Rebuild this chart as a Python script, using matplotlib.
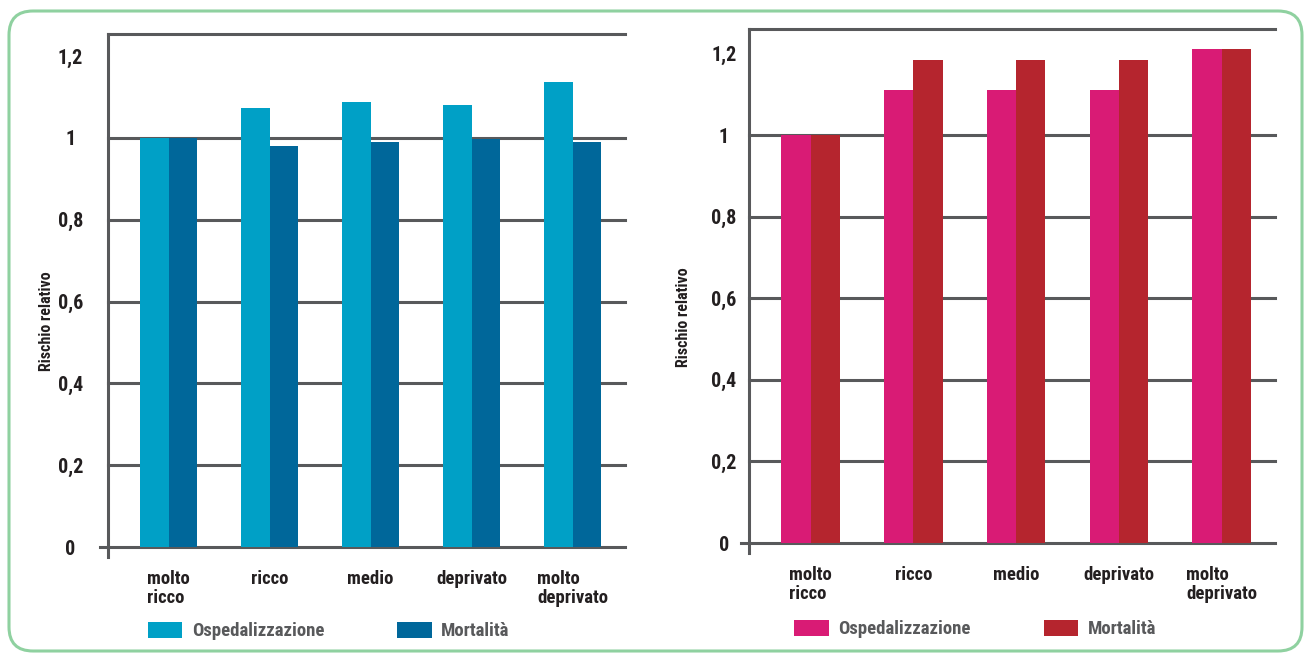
import matplotlib
matplotlib.use("Agg")
import numpy as np
import matplotlib.pyplot as plt
from matplotlib.patches import FancyBboxPatch
from matplotlib.transforms import IdentityTransform

plt.rcParams['font.family'] = ['Liberation Sans Narrow', 'Roboto Condensed', 'Roboto', 'DejaVu Sans']
plt.rcParams['font.weight'] = 'bold'

categories = ["molto\nricco", "ricco", "medio", "deprivato", "molto\ndeprivato"]
yticks = [0, 0.2, 0.4, 0.6, 0.8, 1.0, 1.2]
ytick_labels = ["0", "0,2", "0,4", "0,6", "0,8", "1", "1,2"]

# left panel
osp_left = [1.0, 1.073, 1.088, 1.081, 1.137]
mort_left = [1.0, 0.980, 0.990, 0.998, 0.990]
# right panel
osp_right = [1.0, 1.110, 1.110, 1.110, 1.211]
mort_right = [1.0, 1.184, 1.184, 1.184, 1.211]

gray = "#58595b"
textc = "#231f20"


def panel(ax, osp, mort, c1, c2, ylim, ypad, lab_x, legend_anchor):
    x = np.arange(len(categories))
    w = 0.285
    for yv in yticks[:-1]:
        ax.axhline(yv, color=gray, lw=2.2, zorder=1,
                   xmin=-0.015 if yv == 0 else 0, clip_on=False)
    b1 = ax.bar(x - w / 2, osp, w, color=c1, zorder=2, label="Ospedalizzazione")
    b2 = ax.bar(x + w / 2, mort, w, color=c2, zorder=2, label="Mortalità")
    ax.set_ylim(*ylim)
    ax.set_xlim(-0.6, 4.52)
    for s in ["right", "bottom"]:
        ax.spines[s].set_visible(False)
    ax.spines["left"].set_color(gray)
    ax.spines["left"].set_linewidth(2.2)
    ax.spines["top"].set_color(gray)
    ax.spines["top"].set_linewidth(2.2)
    ax.set_yticks(yticks)
    ax.set_yticklabels(ytick_labels, fontsize=14.5, color=textc, ha="center")
    ax.tick_params(axis="y", length=0, pad=ypad)
    ax.set_xticks(x)
    ax.set_xticklabels(categories, fontsize=13.5, color=textc, multialignment="left",
                       linespacing=1.1, va="top")
    ax.tick_params(axis="x", length=0, pad=9)
    ax.set_ylabel("Rischio relativo", fontsize=11.5, color=textc, fontweight="bold")
    ax.yaxis.set_label_coords(lab_x, 0.45)
    leg = ax.legend(handles=[b1, b2], loc="center left", bbox_to_anchor=legend_anchor,
                    bbox_transform=ax.figure.transFigure, ncol=2, frameon=False,
                    fontsize=13.5, handlelength=1.85, handleheight=0.95,
                    handletextpad=0.5, columnspacing=3.9, borderpad=0, borderaxespad=0)
    for t in leg.get_texts():
        t.set_color(gray)


fig = plt.figure(figsize=(13.06, 6.54), dpi=100)

box = FancyBboxPatch((9, 3), 1293, 640, boxstyle="round,pad=0,rounding_size=24",
                     transform=IdentityTransform(), fill=False,
                     edgecolor="#8fd1a0", linewidth=2.2)
fig.patches.append(box)

ax1 = fig.add_axes([0.0827, 0.1483, 0.3959, 0.7997])
panel(ax1, osp_left, mort_left, "#00a0c6", "#00679a", (-0.024, 1.254), 27, -0.105,
      (0.113, 0.035))

ax2 = fig.add_axes([0.5735, 0.1544, 0.4028, 0.8013])
panel(ax2, osp_right, mort_right, "#d91b75", "#b5252e", (-0.0245, 1.26), 18, -0.11,
      (0.608, 0.038))

fig.savefig("out.png", dpi=100)
